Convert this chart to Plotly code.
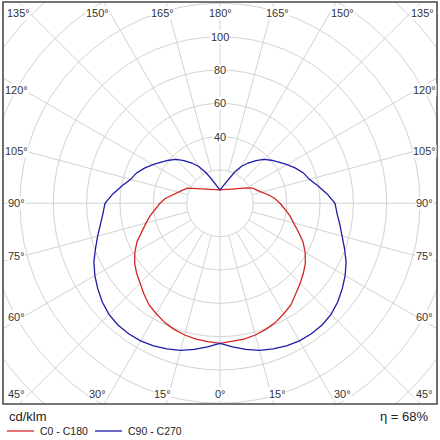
import numpy as np
import plotly.graph_objects as go

# ---------------- data (cd/klm) ----------------
gamma_deg = list(range(0, 181, 5))
c0_c180 = [84, 83.3, 82.8, 81.8, 80.5, 78.8, 76.5, 74.3, 71, 68,
           65.3, 62.5, 59, 55, 50, 46, 42.5, 39, 36, 33,
           29.5, 25.8, 23.5, 21.5, 18.5, 15.5, 13.3, 12, 11, 10.2,
           9.6, 9.2, 8.8, 8.5, 8.2, 8, 7.8]
c90_c270 = [84, 86.5, 89, 91.3, 93, 94.4, 95.3, 95.6, 95.3, 94.2,
            92.2, 89.5, 86.7, 83.5, 79.5, 76, 73, 70.5, 69, 64.5,
            59.8, 55.5, 53.3, 50, 46.5, 43, 40.2, 37.3, 33.5, 29.5,
            25.5, 20.5, 16, 12.8, 10.5, 9, 8]
series_names = ["C0 - C180", "C90 - C270"]
ring_values = [20, 40, 60, 80, 100, 120, 140, 160, 180]
ring_labels = [40, 60, 80, 100]
spoke_step = 15
eta_text = "η = 68%"
unit_text = "cd/klm"

# ---------------- styling / layout ----------------
W = H = 440
S = 1.6667            # px per cd/klm
CX, CY = 220, 203.3   # centre in px
L, R, T, B = 3, 437, 2, 404
RED = "#d42424"
BLUE = "#1c1ca8"
GRID = "#d2d2d2"
TXT = "#333333"
FONT = "Liberation Sans"

g = np.radians(gamma_deg)


def closed_curve(vals):
    v = np.asarray(vals, float)
    # right half 0->180, left half 180->0
    xr = v * np.sin(g)
    yr = -v * np.cos(g)
    xl = -v[::-1] * np.sin(g[::-1])
    yl = -v[::-1] * np.cos(g[::-1])
    return np.concatenate([xr, xl]), np.concatenate([yr, yl])


fig = go.Figure()

# spokes
sx, sy = [], []
for a in range(0, 360, spoke_step):
    ar = np.radians(a)
    r0 = 0 if a % 180 == 0 else ring_values[0]
    sx += [r0 * np.sin(ar), 250 * np.sin(ar), None]
    sy += [-r0 * np.cos(ar), -250 * np.cos(ar), None]
fig.add_trace(go.Scatter(x=sx, y=sy, mode="lines", line=dict(color=GRID, width=1),
                         hoverinfo="skip", showlegend=False))

cols = [RED, BLUE]
for name, vals, c in zip(series_names, [c0_c180, c90_c270], cols):
    x, y = closed_curve(vals)
    fig.add_trace(go.Scatter(x=x, y=y, mode="lines", name=name,
                             line=dict(color=c, width=1.3), showlegend=False))

shapes = []
for r in ring_values:
    shapes.append(dict(type="circle", xref="x", yref="y", x0=-r, x1=r, y0=-r, y1=r,
                       line=dict(color=GRID, width=1), layer="below"))
shapes.append(dict(type="rect", xref="paper", yref="paper", x0=0, x1=1, y0=0, y1=1,
                   line=dict(color="#4a4a4a", width=1.6), layer="above"))

annotations = []
for r in ring_labels:
    annotations.append(dict(x=0, y=r, xref="x", yref="y", text=str(r), showarrow=False,
                            font=dict(family=FONT, size=11, color=TXT), bgcolor="white",
                            borderpad=0, xanchor="center", yanchor="middle"))


def angle_label_offset(gd):
    if gd >= 135:
        a = np.radians(180 - gd)
        return min(213 * np.tan(a), 202), -190
    if gd <= 45:
        a = np.radians(gd)
        return min(213 * np.tan(a), 204), 191
    h = np.radians(90 - gd)
    return 204, 197 * np.tan(h)


for gd in range(0, 181, spoke_step):
    dx, dy = angle_label_offset(gd)
    sides = [1] if gd in (0, 180) else [-1, 1]
    for s in sides:
        annotations.append(dict(x=s * dx / S, y=-dy / S, xref="x", yref="y",
                                text=f"{gd}°", showarrow=False,
                                font=dict(family=FONT, size=11, color=TXT),
                                bgcolor="white", borderpad=0,
                                xanchor="center", yanchor="middle"))


def pp(px, py):
    return (px - L) / (R - L), (B - py) / (B - T)


ux, uy = pp(7, 417)
annotations.append(dict(x=ux, y=uy, xref="paper", yref="paper", text=unit_text,
                        showarrow=False, xanchor="left", yanchor="middle",
                        font=dict(family=FONT, size=13, color="#222222")))
ex, ey = pp(431, 417)
annotations.append(dict(x=ex, y=ey, xref="paper", yref="paper", text=eta_text,
                        showarrow=False, xanchor="right", yanchor="middle",
                        font=dict(family=FONT, size=13, color="#222222")))

legend_starts = [7, 95]
for name, c, x0 in zip(series_names, cols, legend_starts):
    a0, yy = pp(x0, 431)
    a1, _ = pp(x0 + 27, 431)
    shapes.append(dict(type="line", xref="paper", yref="paper", x0=a0, x1=a1, y0=yy, y1=yy,
                       line=dict(color=c, width=1.3)))
    tx, _ = pp(x0 + 31, 431)
    annotations.append(dict(x=tx, y=yy, xref="paper", yref="paper", text=name,
                            showarrow=False, xanchor="left", yanchor="middle",
                            font=dict(family=FONT, size=10.5, color="#222222")))

fig.update_layout(
    width=W, height=H,
    margin=dict(l=L, r=W - R, t=T, b=H - B, pad=0),
    paper_bgcolor="white", plot_bgcolor="white",
    xaxis=dict(range=[-(CX - L) / S, (R - CX) / S], visible=False, fixedrange=True),
    yaxis=dict(range=[-(B - CY) / S, (CY - T) / S], visible=False, fixedrange=True),
    shapes=shapes, annotations=annotations, showlegend=False,
)

fig.write_html(
    "out.html",
    config={"displayModeBar": False},
    post_script="document.body.style.margin='0';document.documentElement.style.overflow='hidden';",
)
